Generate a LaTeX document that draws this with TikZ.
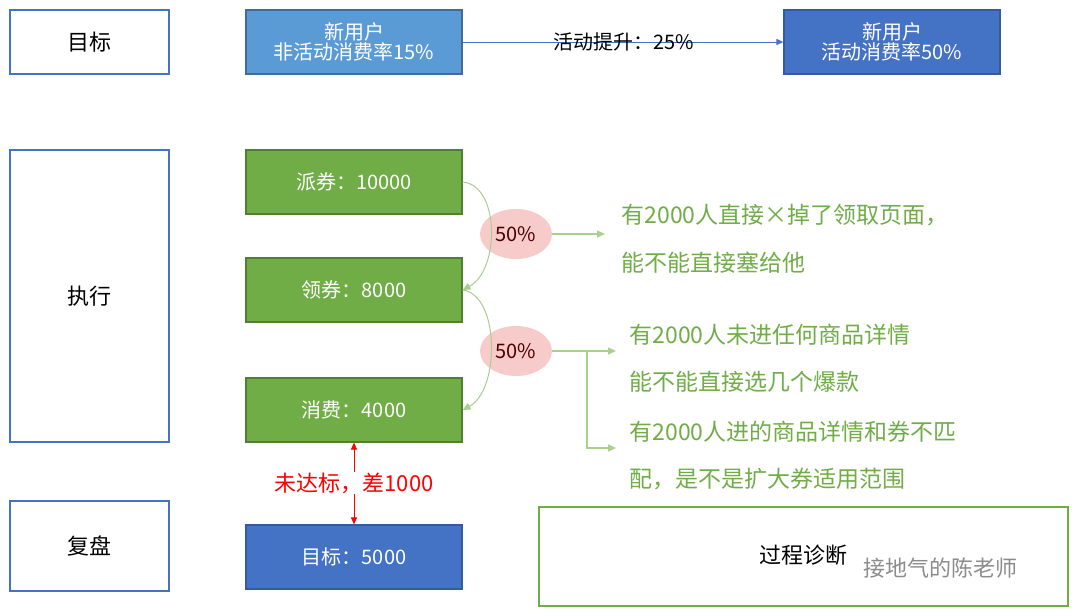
\documentclass[tikz,border=0pt]{standalone}
\usepackage{fontspec}
\setmainfont{Noto Sans CJK SC}
\usetikzlibrary{arrows.meta,shapes.geometric}
\definecolor{gb}{HTML}{70AD47}
\definecolor{gbd}{HTML}{507E32}
\definecolor{lb}{HTML}{5B9BD5}
\definecolor{db}{HTML}{4472C4}
\definecolor{lg}{HTML}{A9D18E}
\definecolor{pk}{HTML}{F8CBCB}
\begin{document}
\begin{tikzpicture}[x=1pt,y=-1pt,
 lab/.style={draw=db,line width=1.2pt,minimum width=159pt,minimum height=64pt,font=\fontsize{22}{26}\selectfont},
 gbox/.style={draw=gbd,line width=1.2pt,fill=gb,text=white,minimum width=216pt,minimum height=64pt,font=\fontsize{20}{24}\selectfont},
 bbox/.style={draw=db!80!black,line width=1.2pt,fill=db,text=white,minimum width=216pt,minimum height=64pt,font=\fontsize{20}{24}\selectfont,align=center},
 gtxt/.style={text=gb,font=\fontsize{23}{27}\selectfont,anchor=west},
 pct/.style={ellipse,fill=pk,minimum width=72pt,minimum height=50pt,inner sep=0pt,text=black!70!red,font=\fontsize{20}{24}\selectfont},
 gl/.style={draw=lg,line width=1.2pt,-{Triangle[length=8pt,width=7pt]},shorten >=0pt}]
\useasboundingbox (0,0) rectangle (1080,616);
\fill[white] (0,0) rectangle (1080,616);
\node[lab] (mb) at (89.5,42) {目标};
\node[lab,minimum height=292pt] (zx) at (89.5,296) {执行};
\node[lab,minimum height=90pt] (fp) at (89.5,546) {复盘};
\node[bbox,fill=lb,draw=lb!70!black] (b1) at (354,42) {新用户\\[-4pt]非活动消费率15\%};
\node[bbox] (b2) at (892,42) {新用户\\[-4pt]活动消费率50\%};
\draw[db,line width=1pt,-{Triangle[length=7pt,width=6pt]}] (b1.east) -- (b2.west);
\node[font=\fontsize{20}{24}\selectfont,inner sep=1pt] (up) at (624,42) {活动提升：25\%};
\node[gbox] (g1) at (354,182) {派券：10000};
\node[gbox] (g2) at (354,290) {领券：8000};
\node[gbox] (g3) at (354,410) {消费：4000};
\node[bbox] (tg) at (354,557) {目标：5000};
\draw[red,line width=1pt,{Triangle[length=7pt,width=6pt]}-{Triangle[length=7pt,width=6pt]}] (g3.south) -- (tg.north);
\node[fill=white,text=red,font=\fontsize{22}{26}\selectfont,inner sep=1pt] (wd) at (354,483) {未达标，差1000};
\node[pct] (p1) at (516,234) {50\%};
\node[pct] (p2) at (516,351) {50\%};
\draw[gl,draw=gb!60!white,line width=1pt] (g1.east) .. controls (500,185) and (500,270) .. (g2.east);
\draw[gl,draw=gb!60!white,line width=1pt] (g2.east) .. controls (500,295) and (500,390) .. (g3.east);
\coordinate (a1) at (605,234);
\draw[gl] (p1.east) -- (a1);
\coordinate (a2) at (616,351);
\coordinate (br) at (587,351);
\coordinate (a3) at (616,448);
\draw[gl] (p2.east) -- (a2);
\draw[gl] (br) |- (a3);
\node[gtxt] (t1) at (618,215) {有2000人直接×掉了领取页面，};
\node[gtxt] (t2) at (618,263) {能不能直接塞给他};
\node[gtxt] (t3) at (626,335) {有2000人未进任何商品详情};
\node[gtxt] (t4) at (626,382) {能不能直接选几个爆款};
\node[gtxt] (t5) at (626,432) {有2000人进的商品详情和券不匹};
\node[gtxt] (t6) at (626,479) {配，是不是扩大券适用范围};
\node[draw=gb,line width=1.2pt,minimum width=529pt,minimum height=99pt] (gc) at (803.5,556.5) {};
\node[font=\fontsize{22}{26}\selectfont] (gct) at (803,555) {过程诊断};
\node[text=black!45,font=\fontsize{22}{26}\selectfont,anchor=west] (wm) at (860,568) {接地气的陈老师};
\end{tikzpicture}
\end{document}
